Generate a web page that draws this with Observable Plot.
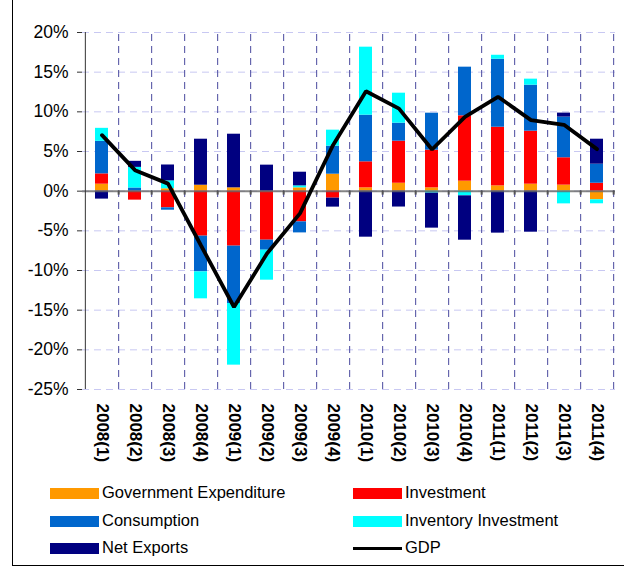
<!DOCTYPE html>
<html>
<head>
<meta charset="utf-8">
<script src="https://cdn.jsdelivr.net/npm/d3@7"></script>
<script src="https://cdn.jsdelivr.net/npm/@observablehq/plot@0.6"></script>
<style>
  html, body { margin: 0; padding: 0; background: #fff; }
  body { width: 624px; height: 568px; position: relative; overflow: hidden; font-family: Arial, "Liberation Sans", sans-serif; }
  #frame { position: absolute; left: 12px; top: -2px; width: 620px; height: 567px; border-left: 1px solid #000; border-bottom: 1px solid #000; }
  #chart { position: absolute; left: 0; top: 0; }
  .leg { position: absolute; font-size: 16.5px; color: #000; line-height: 1; white-space: nowrap; }
  .sw { position: absolute; width: 49px; height: 11px; }
</style>
</head>
<body>
<div id="frame"></div>
<div id="chart"></div>
<div id="legend"></div>
<script>
const categories = ["2008(1)","2008(2)","2008(3)","2008(4)","2009(1)","2009(2)","2009(3)","2009(4)",
                    "2010(1)","2010(2)","2010(3)","2010(4)","2011(1)","2011(2)","2011(3)","2011(4)"];
const seriesNames = ["Government Expenditure","Investment","Consumption","Inventory Investment","Net Exports"];
const seriesColors = ["#ff9900","#ff0000","#0066cc","#00ffff","#000080"];
const govExpenditure = [0.88, 0, 0.3, 0.75, 0.42, 0, 0.42, 2.14, 0.42, 1.0, 0.42, 1.26, 0.67, 0.88, 0.76, -1.09];
const investment     = [1.3, -1.13, -2.1, -5.67, -6.93, -6.18, -3.87, -0.88, 3.28, 5.3, 4.75, 8.24, 7.39, 6.68, 3.45, 1.0];
const consumption    = [4.1, 0.4, -0.3, -4.5, -7.23, -1.26, -1.39, 3.53, 5.88, 2.27, 4.66, 6.13, 8.57, 5.8, 5.13, 2.4];
const inventoryInv   = [1.64, 2.6, 1.0, -3.4, -7.77, -3.78, 0.25, 2.02, 8.57, 3.78, -0.25, -0.59, 0.5, 0.76, -1.6, -0.5];
const netExports     = [-1.0, 0.76, 2.0, 5.8, 6.76, 3.28, 1.72, -1.13, -5.8, -2.0, -4.41, -5.59, -5.29, -5.17, 0.5, 3.15];
const gdp            = [7.06, 2.65, 0.95, -6.85, -14.6, -7.86, -2.8, 5.8, 12.6, 10.4, 5.25, 9.37, 11.9, 8.95, 8.36, 5.3];
const yTicks = [-25, -20, -15, -10, -5, 0, 5, 10, 15, 20];
const yDomain = [-25, 20];

const seriesValues = [govExpenditure, investment, consumption, inventoryInv, netExports];
const bars = [];
categories.forEach((c, i) => {
  seriesNames.forEach((s, k) => bars.push({cat: c, series: s, value: seriesValues[k][i]}));
});
const gdpData = categories.map((c, i) => ({cat: c, gdp: gdp[i]}));

const W = 624, H = 470, mL = 82, mR = 9, mT = 32, mB = 81;
const step = (W - mL - mR) / categories.length;

const chart = Plot.plot({
  width: W, height: H,
  marginLeft: mL, marginRight: mR, marginTop: mT, marginBottom: mB,
  style: {fontFamily: "Arial, 'Liberation Sans', sans-serif", background: "transparent", color: "#000"},
  x: {domain: categories, paddingInner: 0.61, paddingOuter: 0.305, align: 0.5},
  y: {domain: yDomain},
  color: {domain: seriesNames, range: seriesColors},
  marks: [
    Plot.ruleY(yTicks, {stroke: "#c8c8f2", strokeDasharray: "7,5", strokeWidth: 1}),
    Plot.ruleX(categories, {x: d => d, y1: yDomain[0], y2: yDomain[1], dx: step / 2, stroke: "#4a4a9e", strokeDasharray: "7,5", strokeWidth: 1}),
    Plot.barY(bars, Plot.stackY({x: "cat", y: "value", fill: "series", order: null})),
    Plot.ruleY([0], {stroke: "#666", strokeOpacity: 0.8, strokeWidth: 2}),
    Plot.ruleX(categories, {x: d => d, y1: 0, y2: -0.5, dx: step / 2, stroke: "#555", strokeWidth: 2}),
    Plot.ruleX([categories[0]], {x: d => d, y1: yDomain[0], y2: yDomain[1], dx: -step / 2, stroke: "#333", strokeWidth: 1}),
    Plot.line(gdpData, {x: "cat", y: "gdp", stroke: "#000", strokeWidth: 3.8, strokeLinejoin: "miter"}),
    Plot.axisY(yTicks, {tickFormat: d => d + "%", tickSize: 5, tickPadding: 9, fontSize: 17.5, stroke: "#333", fill: "#000", label: null, letterSpacing: 1}),
    Plot.axisX({tickRotate: 90, tickSize: 0, tickPadding: 14, fontSize: 17, fontWeight: "bold", fill: "#000", label: null, letterSpacing: 1.6})
  ]
});
document.getElementById("chart").appendChild(chart);

// Legend (HTML)
const legendItems = [
  {name: seriesNames[0], color: seriesColors[0], x: 50, y: 493, type: "bar"},
  {name: seriesNames[1], color: seriesColors[1], x: 353, y: 493, type: "bar"},
  {name: seriesNames[2], color: seriesColors[2], x: 50, y: 521, type: "bar"},
  {name: seriesNames[3], color: seriesColors[3], x: 353, y: 521, type: "bar"},
  {name: seriesNames[4], color: seriesColors[4], x: 50, y: 548, type: "bar"},
  {name: "GDP", color: "#000", x: 353, y: 548, type: "line"}
];
const leg = document.getElementById("legend");
legendItems.forEach(it => {
  const sw = document.createElement("div");
  sw.className = "sw";
  sw.style.left = it.x + "px";
  if (it.type === "bar") {
    sw.style.top = (it.y - 5.5) + "px";
    sw.style.background = it.color;
  } else {
    sw.style.top = (it.y - 1.5) + "px";
    sw.style.height = "3px";
    sw.style.background = it.color;
  }
  leg.appendChild(sw);
  const t = document.createElement("div");
  t.className = "leg";
  t.textContent = it.name;
  t.style.left = (it.x + 52) + "px";
  t.style.top = (it.y - 9) + "px";
  leg.appendChild(t);
});
</script>
</body>
</html>
